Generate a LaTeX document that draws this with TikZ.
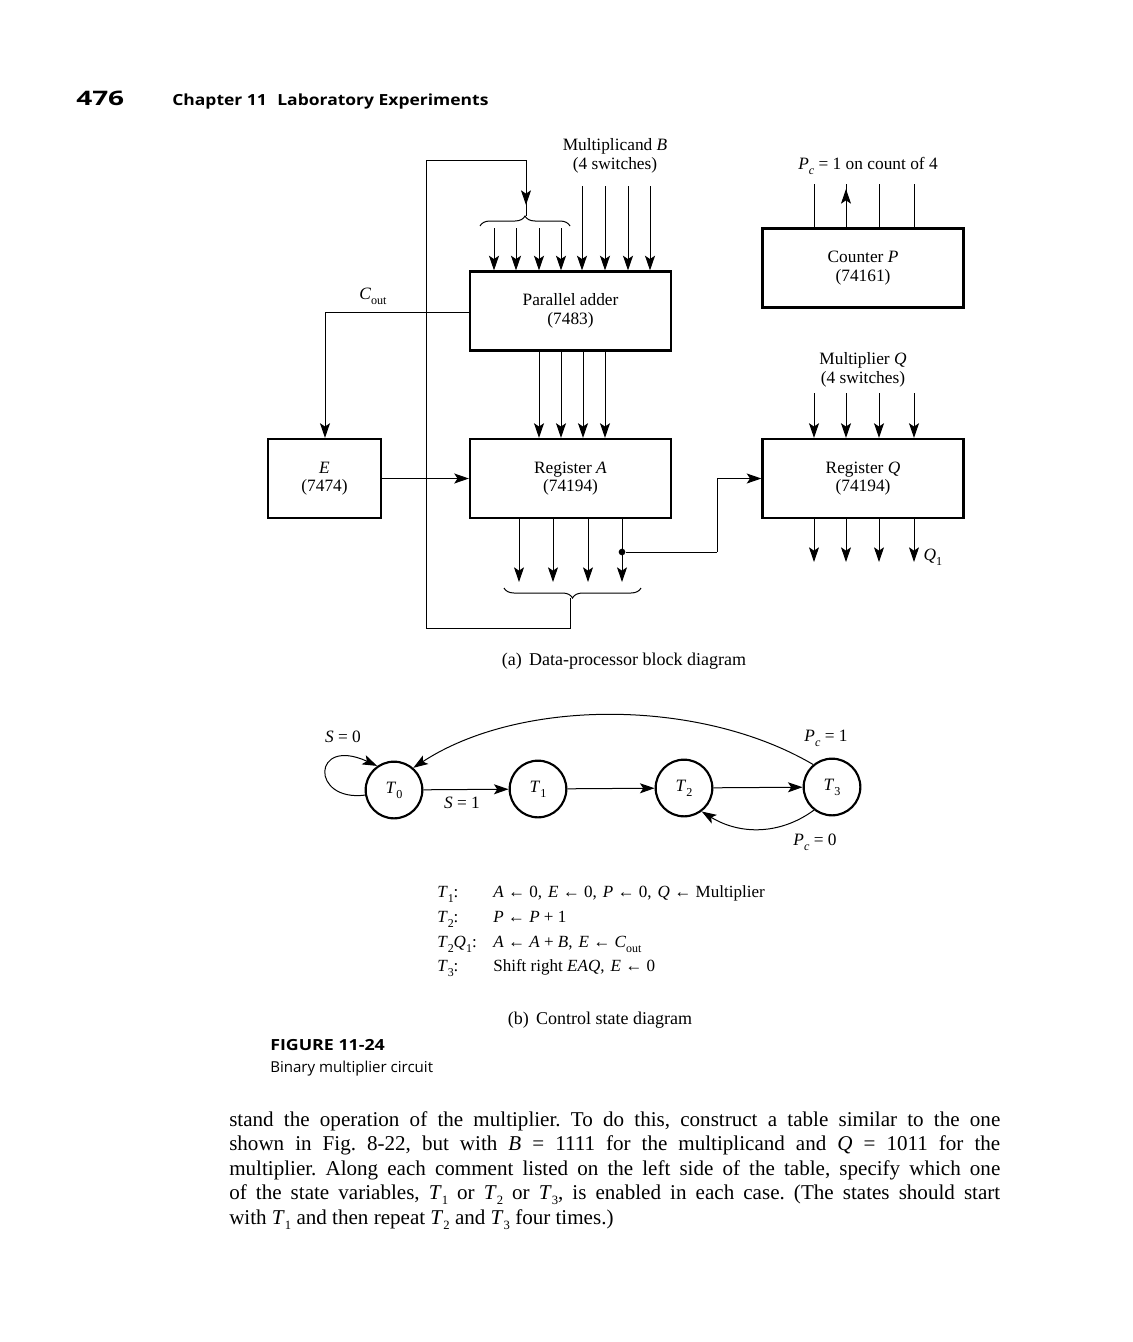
\documentclass[tikz,border=0pt]{standalone}
\usepackage{fontspec}
\setmainfont{Liberation Serif}
\newfontfamily\headfont{Open Sans}
\usetikzlibrary{arrows.meta,decorations.pathreplacing}
\newcommand{\lowr}[1]{\raisebox{-.3em}{\scalebox{0.7}{#1}}}
\newcommand{\lowb}[1]{\raisebox{-.25em}{\scalebox{0.6}{#1}}}
\tikzset{
  x=0.75pt,y=-0.75pt,
  txt/.style={inner sep=0pt,font=\fontsize{13pt}{13.8pt}\selectfont,align=center},
  eqn/.style={inner sep=0pt,anchor=base west,font=\fontsize{12.8pt}{13.5pt}\selectfont},
  bodyline/.style={inner sep=0pt,anchor=base west,font=\fontsize{15.8pt}{18pt}\selectfont},
  blockbox/.style={draw,line width=1.9pt,inner sep=0pt,minimum height=59pt,
     font=\fontsize{13pt}{13.8pt}\selectfont,align=center},
  widebox/.style={blockbox,minimum width=150.5pt},
  statenode/.style={draw,circle,line width=1.6pt,minimum size=42.5pt,inner sep=0pt,
     font=\fontsize{13pt}{14pt}\selectfont},
  wire/.style={line width=0.75pt},
  arrowed/.style={line width=0.75pt,-{Stealth[length=11pt,width=7.5pt,inset=2.5pt]}},
  bracemark/.style={line width=0.75pt,decorate,decoration={brace,amplitude=7.5pt}},
}
\begin{document}
\frenchspacing
\begin{tikzpicture}
\useasboundingbox (0,0) rectangle (1132,1342);
\fill[white] (0,0) rectangle (1132,1342);

% header
\node[inner sep=0pt,anchor=base west,font=\headfont\bfseries\fontsize{15pt}{16pt}\selectfont] (pagenum) at (76,105) {\scalebox{1.4}[1]{476}};
\node[inner sep=0pt,anchor=base west,font=\headfont\bfseries\fontsize{11.5pt}{14pt}\selectfont] (chaphead) at (172,105) {\scalebox{1.14}[1]{Chapter 11\hspace{.6em}Laboratory Experiments}};

% blocks
\node[widebox] (adder) at (570.5,311) {Parallel adder\\(7483)};
\node[widebox] (counter) at (863,268) {Counter \textit{P}\\(74161)};
\node[blockbox,minimum width=85pt] (e) at (324.5,478.5) {\textit{E}\\(7474)};
\node[widebox] (rega) at (570.5,478.5) {Register \textit{A}\\(74194)};
\node[widebox] (regq) at (863,478.5) {Register \textit{Q}\\(74194)};

% labels
\node[txt] (mcand) at (615,156) {Multiplicand \textit{B}\\(4 switches)};
\node[txt] (pclab) at (868,166) {\textit{P}\lowr{\textit{c}} = 1 on count of 4};
\node[txt] (mplier) at (863,370) {Multiplier \textit{Q}\\(4 switches)};
\node[txt] (cout) at (373,296) {\textit{C}\lowr{out}};
\node[txt] (q1lab) at (933,557) {\textit{Q}\lowr{1}};
\node[txt,font=\fontsize{13.5pt}{14pt}\selectfont] (capa) at (624,661) {(a)\hspace{.4em}Data-processor block diagram};

% adder inputs
\foreach \i/\xx in {1/494,2/516,3/539,4/561}{
  \coordinate (al\i) at (\xx,228);
  \draw[arrowed] (al\i) -- (al\i |- adder.north);
}
\foreach \i/\xx in {1/582,2/605,3/628,4/650}{
  \coordinate (ar\i) at (\xx,186);
  \draw[arrowed] (ar\i) -- (ar\i |- adder.north);
}
% adder to register A
\foreach \i/\xx in {1/539,2/561,3/583,4/605}{
  \coordinate (ad\i) at (\xx,350);
  \draw[arrowed] (ad\i) -- (ad\i |- rega.north);
}
% counter pins
\foreach \i/\xx in {1/814,3/879,4/914}{
  \coordinate (cp\i) at (\xx,184);
  \draw[wire] (cp\i) -- (cp\i |- counter.north);
}
\coordinate (cp2) at (846,184);
\coordinate (cp2tip) at (846,189);
\draw[wire] (cp2) -- (cp2 |- counter.north);
\draw[arrowed] (cp2 |- counter.north) -- (cp2tip);
% register Q inputs and outputs
\foreach \i/\xx in {1/814,2/846,3/879,4/914}{
  \coordinate (qi\i) at (\xx,393);
  \draw[arrowed] (qi\i) -- (qi\i |- regq.north);
  \coordinate (qo\i) at (\xx,562);
  \draw[arrowed] (qo\i |- regq.south) -- (qo\i);
}
% register A outputs
\foreach \i/\xx in {1/519,2/553,3/588,4/622}{
  \coordinate (ao\i) at (\xx,582);
  \draw[arrowed] (ao\i |- rega.south) -- (ao\i);
}
% braces
\coordinate (bt1) at (480,226);
\coordinate (bt2) at (570,226);
\draw[bracemark] (bt1) -- (bt2);
\coordinate (bb1) at (641,588);
\coordinate (bb2) at (504,588);
\draw[bracemark] (bb1) -- (bb2);
% feedback
\coordinate (fbtip) at (526,205);
\coordinate (fbend) at (526,216);
\coordinate (fbtop) at (426,160);
\coordinate (fbbot) at (426,628);
\coordinate (fbstart) at (570,598);
\draw[wire] (fbstart) |- (fbbot) -- (fbtop) -| (fbend);
\draw[arrowed] (fbtop -| fbend) -- (fbtip);
% Cout
\coordinate (coutc) at (325,312);
\draw[arrowed] (adder.west |- coutc) -- (coutc) -- (coutc |- e.north);
% E to A
\draw[arrowed] (e.east) -- (rega.west);
% A to Q
\node[circle,fill,inner sep=0pt,minimum size=5pt] (dot) at (622,552) {};
\coordinate (aqbend) at (717,552);
\draw[wire] (dot) -- (aqbend);
\draw[arrowed] (aqbend) -- (aqbend |- regq.west) -- (regq.west);

% state diagram
\node[statenode] (t0) at (394,790) {\textit{T}\lowr{0}};
\node[statenode] (t1) at (538,789) {\textit{T}\lowr{1}};
\node[statenode] (t2) at (684,788) {\textit{T}\lowr{2}};
\node[statenode] (t3) at (832,787) {\textit{T}\lowr{3}};
\draw[arrowed] (t0) -- (t1);
\draw[arrowed] (t1) -- (t2);
\draw[arrowed] (t2) -- (t3);
\draw[arrowed] (t3.130) .. controls (700,698) and (520,698) .. (t0.49);
\draw[arrowed] (t3.232) .. controls (780,835) and (740,835) .. (t2.-53);
\draw[arrowed] (t0.190) .. controls (310,802) and (312,736) .. (t0.125);
\node[txt] (s0) at (343,737) {\textit{S} = 0};
\node[txt] (s1) at (462,803) {\textit{S} = 1};
\node[txt] (pc1) at (826,738) {\textit{P}\lowr{\textit{c}} = 1};
\node[txt] (pc0) at (815,842) {\textit{P}\lowr{\textit{c}} = 0};

% equations
\node[eqn] (eq1a) at (437,897) {\textit{T}\lowr{1}:};
\node[eqn] (eq1b) at (493,897) {\textit{A} ← 0,\hspace{.35em}\textit{E} ← 0,\hspace{.35em}\textit{P} ← 0,\hspace{.35em}\textit{Q} ← Multiplier};
\node[eqn] (eq2a) at (437,922) {\textit{T}\lowr{2}:};
\node[eqn] (eq2b) at (493,922) {\textit{P} ← \textit{P} + 1};
\node[eqn] (eq3a) at (437,947) {\textit{T}\lowr{2}\textit{Q}\lowr{1}:};
\node[eqn] (eq3b) at (493,947) {\textit{A} ← \textit{A} + \textit{B},\hspace{.35em}\textit{E} ← \textit{C}\lowr{out}};
\node[eqn] (eq4a) at (437,971) {\textit{T}\lowr{3}:};
\node[eqn] (eq4b) at (493,971) {Shift right \textit{EAQ},\hspace{.35em}\textit{E} ← 0};
\node[txt,font=\fontsize{13.5pt}{14pt}\selectfont] (capb) at (600,1020) {(b)\hspace{.4em}Control state diagram};

% figure caption
\node[inner sep=0pt,anchor=base west,font=\headfont\bfseries\fontsize{11.5pt}{12pt}\selectfont] (figlab) at (270,1050) {\scalebox{1.16}[1]{FIGURE 11-24}};
\node[inner sep=0pt,anchor=base west,font=\headfont\fontsize{11.3pt}{12pt}\selectfont] (figcap) at (270,1072) {Binary multiplier circuit};

% body text
\node[bodyline] (l1) at (229,1126) {\makebox[578.25pt][s]{stand the operation of the multiplier. To do this, construct a table similar to the one}};
\node[bodyline] (l2) at (229,1150) {\makebox[578.25pt][s]{shown in Fig. 8-22, but with \textit{B} = 1111 for the multiplicand and \textit{Q} = 1011 for the}};
\node[bodyline] (l3) at (229,1175) {\makebox[578.25pt][s]{multiplier. Along each comment listed on the left side of the table, specify which one}};
\node[bodyline] (l4) at (229,1199) {\makebox[578.25pt][s]{of the state variables, \textit{T}\lowb{1} or \textit{T}\lowb{2} or \textit{T}\lowb{3}, is enabled in each case. (The states should start}};
\node[bodyline] (l5) at (229,1224) {with \textit{T}\lowb{1} and then repeat \textit{T}\lowb{2} and \textit{T}\lowb{3} four times.)};
\end{tikzpicture}
\end{document}
